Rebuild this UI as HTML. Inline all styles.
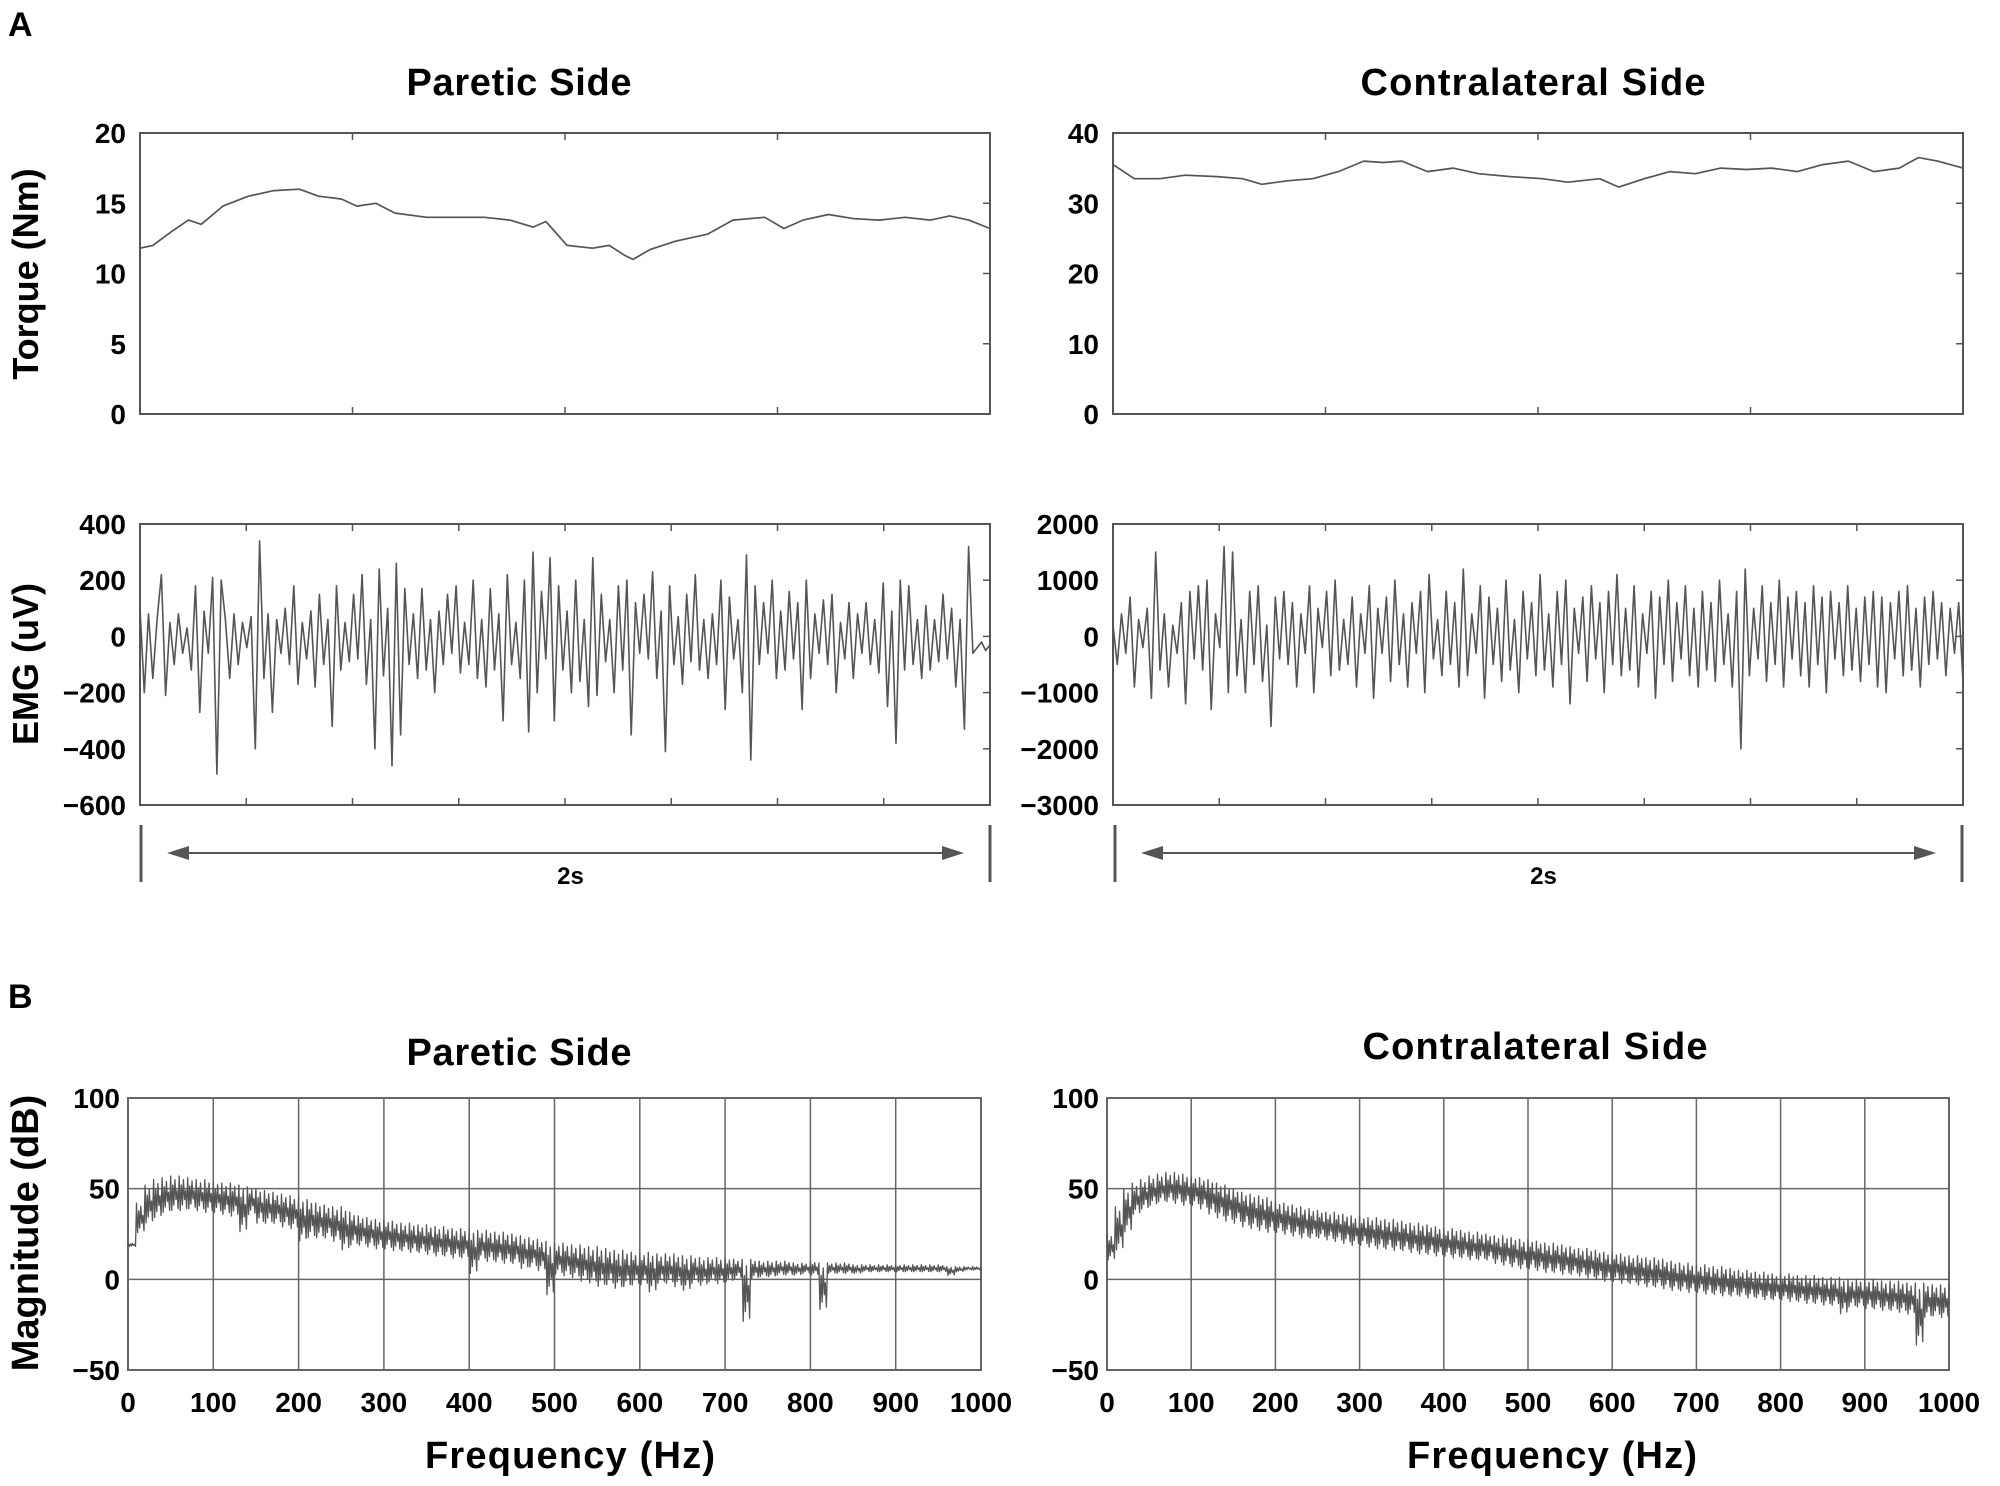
<!DOCTYPE html>
<html><head><meta charset="utf-8"><style>
html,body{margin:0;padding:0;background:#fff}
svg{display:block;font-family:"Liberation Sans",sans-serif;font-weight:bold}
</style></head><body>
<svg id="fig" width="2000" height="1486" viewBox="0 0 2000 1486" xmlns="http://www.w3.org/2000/svg">
<text x="8" y="36" font-size="34">A</text>
<text x="8" y="1008" font-size="34">B</text>
<text x="519" y="95" font-size="38" text-anchor="middle" textLength="225">Paretic Side</text>
<text x="1533" y="95" font-size="38" text-anchor="middle" textLength="345">Contralateral Side</text>
<text x="519" y="1065" font-size="38" text-anchor="middle" textLength="225">Paretic Side</text>
<text x="1535" y="1059" font-size="38" text-anchor="middle" textLength="345">Contralateral Side</text>
<text transform="translate(38,274) rotate(-90)" font-size="36" text-anchor="middle">Torque (Nm)</text>
<text transform="translate(38,664) rotate(-90)" font-size="36" text-anchor="middle">EMG (uV)</text>
<text transform="translate(38,1233) rotate(-90)" font-size="38" text-anchor="middle">Magnitude (dB)</text>
<text x="570" y="1468" font-size="38" text-anchor="middle" textLength="290">Frequency (Hz)</text>
<text x="1552" y="1468" font-size="38" text-anchor="middle" textLength="290">Frequency (Hz)</text>
</svg>
<script>
const torqueLeftT=[0,0.03,0.075,0.114,0.144,0.195,0.255,0.315,0.375,0.42,0.474,0.51,0.555,0.6,0.675,0.75,0.81,0.87,0.925,0.955,1.005,1.065,1.104,1.14,1.16,1.2,1.26,1.335,1.395,1.47,1.515,1.56,1.62,1.68,1.74,1.8,1.86,1.905,1.95,2.0];
const torqueLeftV=[11.8,12.0,13.0,13.8,13.5,14.8,15.5,15.9,16.0,15.5,15.3,14.8,15.0,14.3,14.0,14.0,14.0,13.8,13.3,13.7,12.0,11.8,12.0,11.3,11.0,11.7,12.3,12.8,13.8,14.0,13.2,13.8,14.2,13.9,13.8,14.0,13.8,14.1,13.8,13.2];
const torqueRightT=[0,0.05,0.11,0.17,0.245,0.305,0.35,0.41,0.47,0.53,0.59,0.635,0.68,0.74,0.8,0.86,0.935,1.01,1.07,1.145,1.19,1.25,1.31,1.37,1.43,1.49,1.55,1.61,1.67,1.73,1.79,1.85,1.895,1.94,2.0];
const torqueRightV=[35.5,33.5,33.5,34.0,33.8,33.5,32.7,33.2,33.5,34.5,36.0,35.8,36.0,34.5,35.0,34.2,33.8,33.5,33.0,33.5,32.3,33.5,34.5,34.2,35.0,34.8,35.0,34.5,35.5,36.0,34.5,35.0,36.5,36.0,35.0];
const torqueLeftTicks=[0,5,10,15,20];
const torqueRightTicks=[0,10,20,30,40];
const emgLeft=[100,-200,80,-150,60,220,-210,50,-100,80,-60,30,-120,180,-270,90,-60,210,-490,200,
60,-150,80,-100,50,-40,70,-400,340,-150,80,-270,60,-60,100,-100,180,-170,50,-80,
90,-180,150,-100,60,-320,180,-120,50,-90,150,-80,220,-170,60,-400,240,-140,100,-460,
260,-350,170,-100,80,-150,170,-120,60,-200,90,-100,150,-60,180,-130,50,-100,200,-150,
60,-180,170,-120,80,-300,220,-100,50,-150,200,-340,300,-200,160,-80,280,-300,180,-120,
90,-200,200,-160,60,-250,280,-210,150,-90,60,-200,180,-120,200,-350,120,-60,150,-80,
230,-150,90,-410,180,-100,70,-170,150,-90,220,-120,60,-150,80,-100,200,-260,140,-80,
60,-200,290,-440,180,-100,120,-60,200,-150,90,-120,160,-80,120,-260,200,-150,80,-60,
130,-100,150,-200,50,-80,120,-150,80,-60,120,-100,60,-130,190,-250,90,-380,200,-120,
180,-100,60,-150,110,-120,60,-90,150,-80,100,-180,60,-330,320,-60,-40,-20,-50,-30];
const emgRight=[200,-500,400,-300,700,-900,300,-200,500,-1100,1500,-600,400,-900,200,-300,600,-1200,800,-400,
900,-600,1000,-1300,400,-200,1600,-1000,1500,-700,300,-1000,800,-500,900,-800,200,-1600,700,-400,
800,-500,600,-900,400,-300,900,-1000,500,-200,800,-700,1000,-600,300,-500,700,-900,400,-300,
900,-1100,500,-300,700,-800,1000,-500,400,-900,600,-300,800,-1000,1100,-400,300,-700,800,-500,
600,-900,1200,-700,400,-300,900,-1100,700,-500,500,-800,1000,-600,300,-1000,800,-400,600,-700,
1100,-600,400,-900,800,-500,1000,-1200,500,-300,700,-800,900,-400,600,-1000,800,-500,1100,-700,
500,-600,900,-900,400,-300,800,-1100,700,-500,1000,-800,600,-400,900,-700,500,-900,800,-600,
600,-800,1000,-500,400,-900,800,-2000,1200,-700,500,-400,900,-800,600,-500,1000,-900,700,-400,
800,-700,600,-900,900,-500,700,-1000,800,-400,600,-700,900,-600,500,-800,700,-500,800,-900,
700,-1000,600,-400,800,-700,900,-600,500,-900,700,-500,800,-400,600,-700,500,-300,600,-800];
const emgLeftTicks=[400,200,0,-200,-400,-600];
const emgRightTicks=[2000,1000,0,-1000,-2000,-3000];
const specLeftHi=[20,42,52,55,56,57,57,56,55,55,54,53,53,52,51,50,49,48,47,46,45,44,42,41,40,40,37,35,34,33,33,32,31,31,30,30,29,29,28,28,28,27,27,26,26,25,24,23,22,21,20,20,19,19,18,18,17,16,16,15,15,15,14,14,14,13,13,12,12,12,12,11,11,11,10,10,10,10,9,9,10,9,9,9,9,8,8,8,8,8,8,8,8,8,8,8,7,7,7,7,7];
const specLeftLo=[18,25,30,33,36,37,37,38,37,36,36,35,34,25,35,30,30,30,28,27,20,22,22,22,20,15,18,18,17,16,16,15,15,14,14,13,12,12,11,11,2,10,9,9,8,8,5,6,4,-10,2,1,0,-2,-3,-5,-4,-6,-5,-4,-4,-8,-3,-3,-5,-7,-3,-4,-2,-3,-2,0,-25,0,1,1,2,2,2,3,2,-18,3,3,3,3,4,4,4,4,4,4,4,4,4,4,2,4,5,5,5];
const specRightHi=[25,40,50,53,55,57,58,59,59,58,57,56,55,53,52,50,48,47,46,45,43,42,41,40,39,38,37,37,36,35,35,34,34,33,33,32,31,31,30,29,28,28,27,26,26,25,24,24,23,22,22,21,20,20,19,18,17,17,16,15,15,14,13,13,12,12,11,10,9,9,8,8,7,7,6,5,5,4,4,3,3,3,2,2,2,1,1,1,0,0,0,0,-1,-1,-1,-2,-2,-2,-3,-3,-3];
const specRightLo=[10,15,25,35,38,40,42,42,41,40,40,38,35,33,31,30,28,27,26,25,25,24,23,22,22,22,21,20,19,18,18,17,16,16,15,15,14,13,13,12,12,11,11,10,10,10,8,7,6,5,5,4,3,3,2,2,1,0,-1,-2,-2,-3,-3,-4,-5,-5,-6,-7,-7,-8,-8,-9,-9,-10,-10,-10,-11,-11,-12,-12,-12,-13,-13,-14,-14,-15,-15,-20,-16,-16,-17,-17,-18,-18,-19,-20,-38,-22,-21,-22,-20];
const freqTicks=[0,100,200,300,400,500,600,700,800,900,1000];
const magTicks=[100,50,0,-50];

const NS="http://www.w3.org/2000/svg";
const svg=document.getElementById('fig');
function mk(tag,attrs,parent){const e=document.createElementNS(NS,tag);for(const k in attrs)e.setAttribute(k,attrs[k]);(parent||svg).appendChild(e);return e;}
function lin(d0,d1,r0,r1){return v=>r0+(v-d0)/(d1-d0)*(r1-r0);}
const C='#555';

function timePanel(name,x0,x1,y0,y1,ymin,ymax,ticks,nx){
  const g=mk('g',{});
  
  
  const r=mk('rect',{x:x0,y:y0,width:x1-x0,height:y1-y0,fill:'none',stroke:C,'stroke-width':2},g);
  
  
  const sy=lin(ymin,ymax,y1,y0);
  ticks.forEach(v=>{
    const t=mk('text',{x:x0-14,y:sy(v)+10,'font-size':28,'text-anchor':'end'},g);
    t.textContent=(v<0?'\u2212'+(-v):v);
    
    
    mk('line',{x1:x1-7,x2:x1,y1:sy(v),y2:sy(v),stroke:C,'stroke-width':1.5},g);
  });
  for(let i=1;i<nx;i++){const x=x0+(x1-x0)*i/nx;mk('line',{x1:x,x2:x,y1:y1-7,y2:y1,stroke:C,'stroke-width':1.5},g);mk('line',{x1:x,x2:x,y1:y0,y2:y0+7,stroke:C,'stroke-width':1.5},g);}
  return {g,sx:lin(0,2,x0,x1),sy};
}
function drawLine(p,ts,vs,name,w){
  const d=ts.map((t,i)=>(i?'L':'M')+p.sx(t).toFixed(1)+','+p.sy(vs[i]).toFixed(1)).join('');
  const e=mk('path',{d,fill:'none',stroke:C,'stroke-width':w,'stroke-linejoin':'round'},p.g);
  
  
}
function emgTimes(arr){return arr.map((v,i)=>2*i/(arr.length-1));}

const tl=timePanel('torque-paretic-plot',140,990,133,414,0,20,torqueLeftTicks,4);
drawLine(tl,torqueLeftT,torqueLeftV,'torque-paretic-line',1.7);
const tr=timePanel('torque-contralateral-plot',1113,1963,133,414,0,40,torqueRightTicks,4);
drawLine(tr,torqueRightT,torqueRightV,'torque-contralateral-line',1.7);
const el=timePanel('emg-paretic-plot',140,990,524,805,-600,400,emgLeftTicks,8);
drawLine(el,emgTimes(emgLeft),emgLeft,'emg-paretic-line',1.6);
const er=timePanel('emg-contralateral-plot',1113,1963,524,805,-3000,2000,emgRightTicks,8);
drawLine(er,emgTimes(emgRight),emgRight,'emg-contralateral-line',1.6);

function scaleBar(name,x0,x1){
  const g=mk('g',{});
  
  
  mk('line',{x1:x0,x2:x0,y1:825,y2:882,stroke:C,'stroke-width':3},g);
  mk('line',{x1:x1,x2:x1,y1:825,y2:882,stroke:C,'stroke-width':3},g);
  mk('line',{x1:x0+40,x2:x1-40,y1:853,y2:853,stroke:C,'stroke-width':2},g);
  mk('polygon',{points:`${x0+26},853 ${x0+48},846 ${x0+48},860`,fill:C},g);
  mk('polygon',{points:`${x1-26},853 ${x1-48},846 ${x1-48},860`,fill:C},g);
  const t=mk('text',{x:(x0+x1)/2+5,y:884,'font-size':24,'text-anchor':'middle'},g);
  t.textContent='2s';
  
  
}
scaleBar('scale-bar-paretic',141,990);
scaleBar('scale-bar-contralateral',1115,1962);

const zig=[1,0.05,0.75,0.2,0.9,0.35,0.6,0.1];
function specPanel(name,x0,x1,y0,y1,hi,lo){
  const g=mk('g',{});
  
  
  const sx=lin(0,1000,x0,x1),sy=lin(-50,100,y1,y0);
  freqTicks.forEach(f=>{
    mk('line',{x1:sx(f),x2:sx(f),y1:y0,y2:y1,stroke:'#666','stroke-width':1.5},g);
    const t=mk('text',{x:sx(f),y:y1+42,'font-size':28,'text-anchor':'middle'},g);
    t.textContent=f;
    
    
  });
  magTicks.forEach(v=>{
    mk('line',{x1:x0,x2:x1,y1:sy(v),y2:sy(v),stroke:'#666','stroke-width':1.5},g);
    const t=mk('text',{x:x0-8,y:sy(v)+10,'font-size':28,'text-anchor':'end'},g);
    t.textContent=(v<0?'\u2212'+(-v):v);
    
    
  });
  mk('rect',{x:x0,y:y0,width:x1-x0,height:y1-y0,fill:'none',stroke:'#666','stroke-width':2},g);
  let d='';
  for(let i=0;i<hi.length-1;i++){
    const f=i*10;
    zig.forEach((z,k)=>{
      const fr=f+k*10/zig.length;
      const base=lo[i]+(hi[i]-lo[i])*z;
      d+=(d?'L':'M')+sx(fr).toFixed(1)+','+sy(base).toFixed(1);
    });
  }
  d+='L'+sx(1000).toFixed(1)+','+sy(hi[hi.length-1]).toFixed(1);
  const p=mk('path',{d,fill:'none',stroke:C,'stroke-width':1.3,'stroke-linejoin':'round'},g);
  
  
}
specPanel('spectrum-paretic-plot',128,981,1098,1370,specLeftHi,specLeftLo);
specPanel('spectrum-contralateral-plot',1107,1949,1098,1370,specRightHi,specRightLo);
</script>
</body></html>
